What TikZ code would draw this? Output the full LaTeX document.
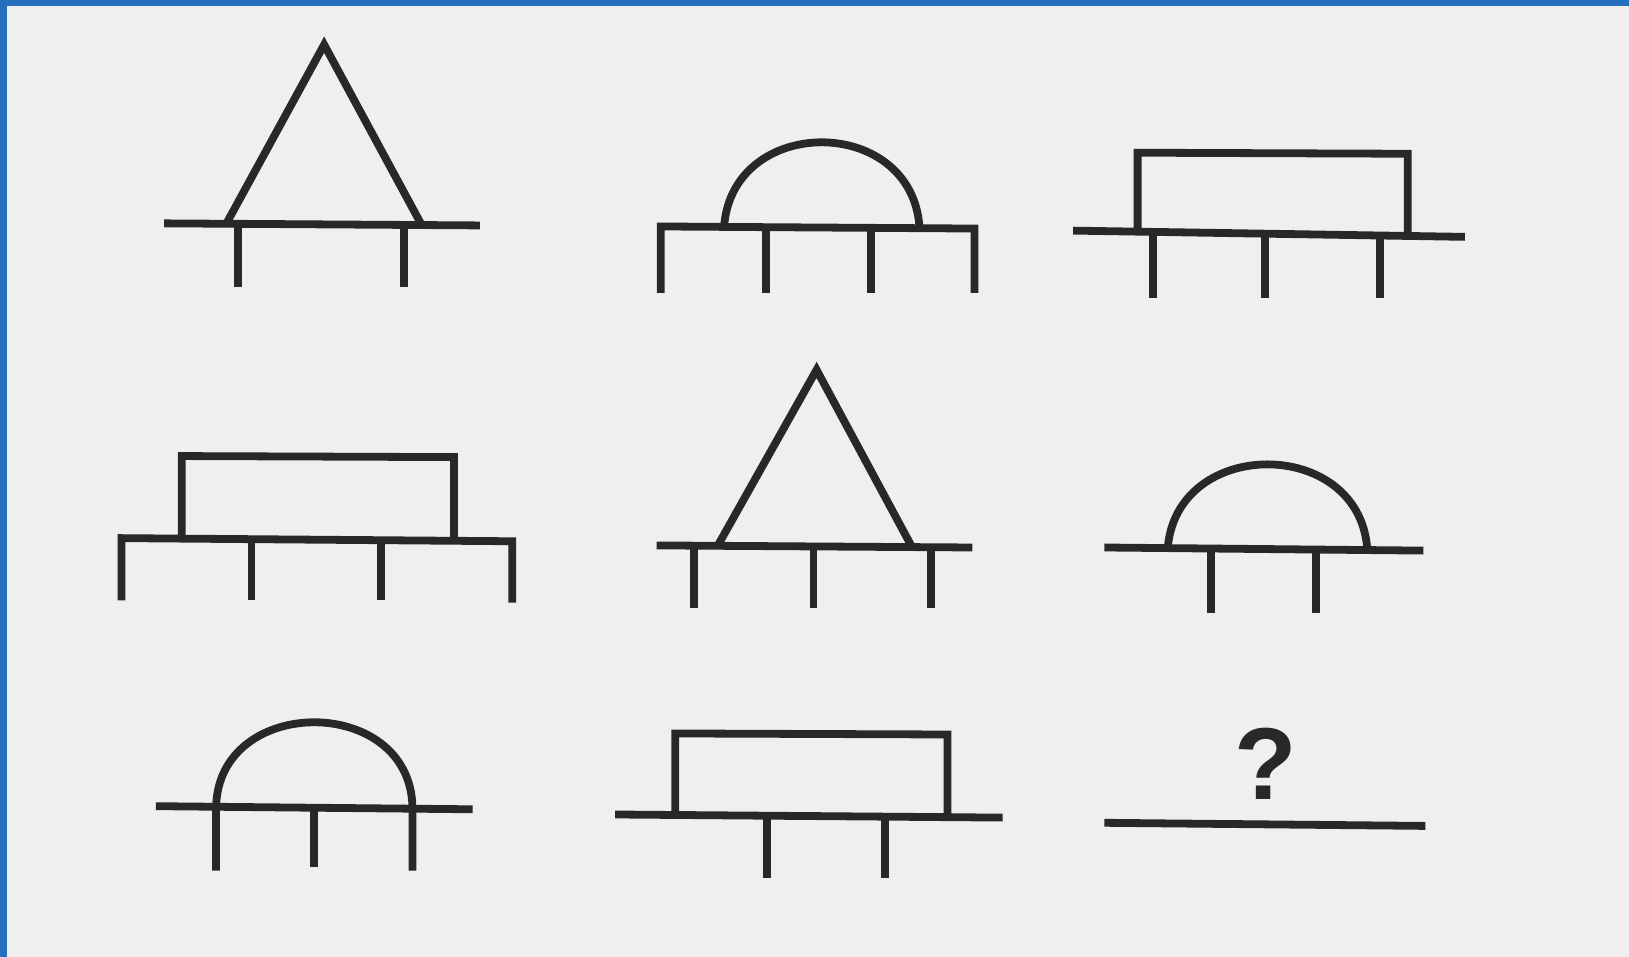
\documentclass[tikz,border=0pt]{standalone}
\usepackage{fontspec}
\setmainfont{Liberation Sans}
\definecolor{paper}{RGB}{239,239,239}
\definecolor{frame}{RGB}{38,110,190}
\definecolor{ink}{RGB}{40,40,40}
\begin{document}
\begin{tikzpicture}[x=0.1mm,y=0.1mm,
		figline/.style={draw=ink, line width=0.75mm}]
			\useasboundingbox (0,0) rectangle (1568,-921);
			\fill[paper] (0,0) rectangle (1568,-921);
			\fill[frame] (0,0) rectangle (1568,-6);
			\fill[frame] (0,0) rectangle (7,-921);
			% row 1
			\draw[figline] (218,-215) -- (312,-43) -- (405,-215);
			\draw[figline] (158,-215) -- (462,-217);
			\foreach \x in {229,389} \draw[figline] (\x,-216) -- (\x,-276);
			\draw[figline] (697,-218) .. controls (705,-110) and (877,-110) .. (885,-218);
			\draw[figline] (636,-282) -- (636,-218) -- (938,-220) -- (938,-282);
			\foreach \x in {737,838} \draw[figline] (\x,-219) -- (\x,-282);
			\draw[figline] (1095,-222) -- (1095,-147) -- (1355,-148) -- (1355,-224);
			\draw[figline] (1033,-222) -- (1410,-228);
			\foreach \x in {1110,1218,1328} \draw[figline] (\x,-225) -- (\x,-287);
			% row 2
			\draw[figline] (175,-517) -- (175,-439) -- (437,-440) -- (437,-519);
			\draw[figline] (117,-578) -- (117,-518) -- (493,-521) -- (493,-580);
			\foreach \x in {242,367} \draw[figline] (\x,-520) -- (\x,-578);
			\draw[figline] (691,-525) -- (786,-356) -- (877,-525);
			\draw[figline] (632,-525) -- (936,-527);
			\foreach \x in {668,783,896} \draw[figline] (\x,-526) -- (\x,-585);
			\draw[figline] (1124,-528) .. controls (1132,-420) and (1308,-420) .. (1316,-528);
			\draw[figline] (1063,-527) -- (1370,-530);
			\foreach \x in {1166,1267} \draw[figline] (\x,-529) -- (\x,-590);
			% row 3
			\draw[figline] (208,-838) -- (208,-777) .. controls (210,-668) and (395,-668) .. (397,-777) -- (397,-838);
			\draw[figline] (150,-776) -- (455,-779);
			\draw[figline] (302,-778) -- (302,-835);
			\draw[figline] (650,-784) -- (650,-706) -- (912,-707) -- (912,-785);
			\draw[figline] (592,-784) -- (965,-787);
			\foreach \x in {738,852} \draw[figline] (\x,-786) -- (\x,-845);
			\node[text=ink, font=\fontsize{28}{30}\selectfont\bfseries] (ask) at (1218,-735) {?};
			\draw[figline] (1063,-792) -- (1372,-795);
		\end{tikzpicture}
\end{document}
